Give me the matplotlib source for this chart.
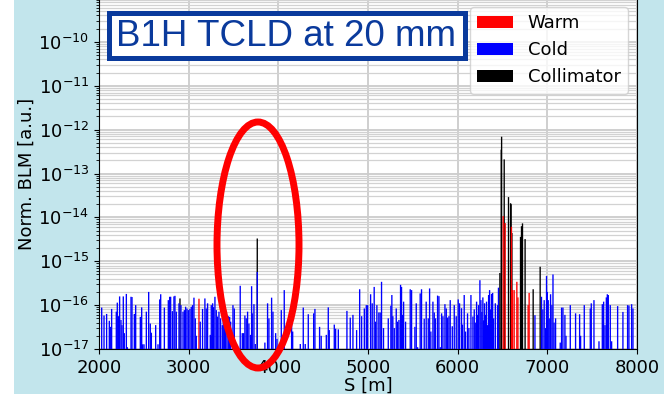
import matplotlib
matplotlib.use("Agg")
import matplotlib.pyplot as plt
from matplotlib.patches import Ellipse, Rectangle

# S positions [m] and normalised BLM signal
cold_s = [2030, 2056, 2085, 2115, 2126, 2141, 2193, 2204, 2216, 2230, 2245, 2256, 2271, 2282,
          2305, 2316, 2357, 2368, 2394, 2409, 2461, 2476, 2487, 2502, 2528, 2554, 2572, 2584,
          2632, 2658, 2677, 2688, 2729, 2773, 2788, 2799, 2818, 2836, 2847, 2862, 2892, 2914,
          2937, 2952, 2966, 2981, 2996, 3014, 3029, 3044, 3059, 3074, 3085, 3129, 3155, 3181,
          3196, 3211, 3241, 3252, 3267, 3278, 3293, 3308, 3323, 3338, 3356, 3375, 3386, 3401,
          3412, 3427, 3442, 3457, 3468, 3494, 3509, 3575, 3598, 3613, 3627, 3642, 3657, 3672,
          3690, 3702, 3709, 3728, 3743, 3765, 3850, 3880, 3895, 3925, 3940, 3970, 3985, 4033,
          4066, 4148, 4160, 4245, 4278, 4300, 4334, 4394, 4408, 4460, 4478, 4535, 4557, 4568,
          4624, 4639, 4669, 4765, 4802, 4832, 4873, 4907, 4929, 4959, 4981, 4996, 5029, 5047,
          5069, 5084, 5099, 5121, 5136, 5151, 5173, 5226, 5255, 5266, 5277, 5293, 5315, 5330,
          5345, 5363, 5374, 5386, 5397, 5419, 5471, 5486, 5523, 5538, 5553, 5582, 5597, 5627,
          5649, 5672, 5687, 5701, 5724, 5739, 5753, 5776, 5791, 5806, 5821, 5836, 5858, 5873,
          5888, 5903, 5917, 5940, 5962, 5984, 6006, 6021, 6043, 6054, 6073, 6088, 6110, 6125,
          6148, 6170, 6185, 6196, 6211, 6222, 6233, 6248, 6259, 6270, 6281, 6290, 6300, 6311,
          6322, 6333, 6345, 6356, 6367, 6378, 6390, 6401, 6420, 6445, 6455, 6862, 6935, 6950,
          6965, 6980, 6991, 7000, 7010, 7021, 7036, 7051, 7063, 7075, 7092, 7144, 7159, 7174,
          7196, 7208, 7256, 7315, 7360, 7371, 7412, 7479, 7490, 7520, 7576, 7613, 7628, 7643,
          7658, 7669, 7680, 7702, 7717, 7784, 7843, 7895, 7910, 7940, 7955]
cold_v = [8.8e-17, 5.8e-17, 6.3e-17, 4.4e-17, 3.2e-17, 8.2e-17, 7.1e-17, 1.14e-16, 5.6e-17,
          1.58e-16, 4.6e-17, 3.5e-17, 1.58e-16, 2.3e-17, 1.8e-16, 1.1e-17, 1.55e-16, 1.53e-16,
          6.3e-17, 1.0e-16, 5.4e-17, 8.9e-17, 1.28e-17, 1.28e-17, 7.1e-17, 2.0e-16, 3.8e-17,
          2.35e-17, 3.5e-17, 1.28e-17, 1.35e-16, 1.77e-16, 8.8e-17, 1.3e-16, 1.55e-16, 1.55e-16,
          7.3e-17, 1.58e-16, 1.63e-16, 7.1e-17, 1.1e-16, 1.0e-16, 7.1e-17, 7.7e-17, 9.2e-17,
          8.4e-17, 7.7e-17, 8.2e-17, 9.2e-17, 1.0e-16, 1.48e-16, 5.0e-17, 2.0e-17, 4.2e-17,
          8.2e-17, 1.42e-16, 8.4e-17, 1.1e-16, 2.1e-17, 1.0e-16, 1.1e-16, 9.0e-17, 1.55e-16,
          7.7e-17, 5.5e-17, 7.1e-17, 5.0e-17, 3.5e-17, 5.5e-17, 5.0e-17, 3.8e-17, 5.0e-17,
          5.6e-17, 5.4e-17, 4.2e-17, 1.0e-16, 8.4e-17, 2.76e-16, 2.3e-17, 2.3e-17, 5.8e-17,
          5.0e-17, 7.1e-17, 3.8e-17, 2.1e-17, 2.7e-16, 6.5e-17, 1.05e-16, 1.3e-17, 5.7e-16,
          1.4e-17, 1.1e-16, 5.0e-17, 1.48e-16, 7.1e-17, 2.3e-17, 1.7e-17, 7.7e-17, 2.2e-16,
          6.5e-17, 2.5e-17, 1.3e-17, 8.8e-17, 1.3e-17, 6.2e-17, 6.5e-17, 8.2e-17, 3.2e-17,
          2.0e-17, 2.1e-17, 8.9e-17, 2.7e-17, 3.6e-17, 2.9e-17, 2.8e-17, 7.4e-17, 5.2e-17,
          6.0e-17, 2.7e-17, 2.3e-16, 5.6e-17, 8.4e-17, 1.0e-16, 1.0e-16, 1.77e-16, 1.1e-16,
          2.6e-16, 4.2e-17, 1.0e-16, 6.8e-17, 6.8e-17, 3.4e-16, 3.0e-17, 5.0e-17, 9.7e-17,
          1.7e-16, 5.6e-17, 3.0e-17, 8.4e-17, 4.2e-17, 4.6e-17, 2.9e-16, 2.6e-16, 6.0e-17,
          1.2e-16, 4.2e-17, 2.3e-16, 2.2e-16, 3.2e-17, 1.1e-16, 1.1e-17, 1.85e-16, 2.3e-16,
          4.9e-17, 1.2e-16, 5.0e-17, 2.4e-16, 2.5e-17, 1.2e-16, 6.8e-17, 5.0e-17, 1.65e-16,
          1.6e-16, 1.1e-17, 6.5e-17, 5.6e-17, 1.05e-16, 8.4e-17, 5.2e-17, 5.6e-17, 1.3e-16,
          3.3e-17, 1.0e-16, 5.6e-17, 1.35e-16, 1.1e-16, 8.5e-17, 3.6e-17, 1.7e-16, 2.5e-17,
          6.5e-17, 3.0e-17, 1.7e-16, 5.5e-17, 8.0e-17, 4.0e-17, 1.2e-16, 6.0e-17, 1.0e-16,
          3.7e-16, 1.3e-16, 7.0e-17, 1.5e-16, 4.5e-17, 1.1e-16, 6.0e-17, 1.2e-16, 3.5e-17,
          1.7e-16, 2.2e-16, 8.0e-17, 1.8e-16, 1.9e-16, 5.0e-17, 1.1e-16, 1.0e-16, 2.5e-16,
          5.9e-17, 1.55e-16, 8.0e-17, 1.3e-16, 3.0e-17, 4.6e-16, 2.0e-16, 1.3e-16, 5.0e-17,
          1.77e-16, 1.0e-16, 5.0e-16, 4.0e-17, 5.0e-17, 1.4e-17, 8.8e-17, 8.8e-17, 6.0e-17,
          2.0e-17, 1.0e-16, 6.5e-17, 6.2e-17, 2.0e-17, 1.0e-16, 8.4e-17, 1.1e-16, 1.3e-16,
          1.5e-17, 1.05e-16, 1.2e-16, 3.5e-17, 1.5e-16, 1.77e-16, 1.7e-16, 1.0e-16, 1.5e-17,
          9.5e-17, 7.0e-17, 1.0e-16, 9.8e-17, 1.05e-16, 8.4e-17]

warm_s = [3115, 6508, 6530, 6600, 6612, 6630, 6660, 6672, 6786, 6797]
warm_v = [1.4e-16, 1.07e-14, 7.4e-15, 6.1e-15, 2.2e-16, 2.2e-16, 3.4e-16, 1.5e-16, 1.0e-16, 1.9e-16]

coll_s = [2903, 3248, 3765, 6471, 6486, 6490, 6519, 6567, 6590, 6596, 6605, 6701, 6712, 6723,
          6752, 6842, 6920]
coll_v = [1.42e-16, 2.0e-17, 3.3e-15, 5.4e-16, 3.5e-13, 6.9e-13, 2.1e-13, 2.9e-14, 2.1e-14,
          2.0e-14, 4.4e-15, 3.6e-15, 6.3e-15, 7.3e-15, 3.2e-15, 2.3e-16, 7.5e-16]

yticks = [1e-17, 1e-16, 1e-15, 1e-14, 1e-13, 1e-12, 1e-11, 1e-10]

W, H = 664, 394
fig = plt.figure(figsize=(W / 100, H / 100), dpi=100, facecolor="#c2e5ec")
# white strip on the left edge of the screenshot
fig.patches.append(Rectangle((0, 0), 14 / W, 1, transform=fig.transFigure,
                             facecolor="white", edgecolor="none", zorder=0))

ax = fig.add_axes([99 / W, 1 - 349 / H, 538 / W, 351 / H])
ax.set_yscale("log")

bw = 15
hk = ax.bar(coll_s, coll_v, width=bw, color="black", linewidth=0, zorder=2, snap=False)
hw = ax.bar(warm_s, warm_v, width=bw, color="red", linewidth=0, zorder=3, snap=False)
hc = ax.bar(cold_s, cold_v, width=bw, color="blue", linewidth=0, zorder=3, snap=False)

ax.set_xlim(2000, 8000)
ax.set_ylim(1e-17, 1e-9)
ax.set_xticks(range(2000, 8001, 1000))
ax.set_yticks(yticks)
ax.grid(which="major", color="#cccccc", lw=1.3, zorder=0)
ax.grid(which="minor", axis="y", color="#d2d2d2", lw=0.9, zorder=0)
ax.set_axisbelow(True)
ax.tick_params(labelsize=13)
ax.set_xlabel("S [m]", fontsize=13, labelpad=0)
ax.set_ylabel("Norm. BLM [a.u.]", fontsize=13, labelpad=2)

ax.legend([hw, hc, hk], ["Warm", "Cold", "Collimator"], loc="upper right", fontsize=13)

# title box
fig.patches.append(Rectangle((108.5 / W, 1 - 57.5 / H), 356 / W, 45 / H,
                             transform=fig.transFigure, facecolor="white",
                             edgecolor="#0a3a9c", lw=3.6, zorder=5))
fig.text(286.5 / W, 1 - 36 / H, "B1H TCLD at 20 mm", family="Liberation Sans",
         fontsize=26.5, color="#0a3a9c", ha="center", va="center", zorder=6)

# red highlight ellipse
fig.patches.append(Ellipse((258 / W, 1 - 245 / H), 82 / W, 246 / H,
                           transform=fig.transFigure, facecolor="none",
                           edgecolor="red", lw=5, zorder=7))

fig.savefig("out.png", dpi=100, facecolor=fig.get_facecolor())
